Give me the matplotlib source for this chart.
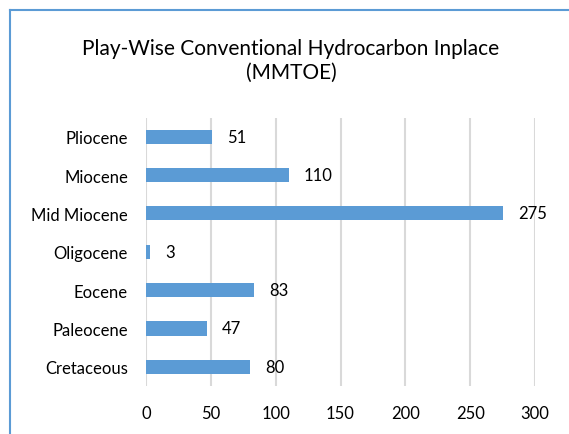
import matplotlib.pyplot as plt
from matplotlib.lines import Line2D

plays = ["Pliocene", "Miocene", "Mid Miocene", "Oligocene", "Eocene", "Paleocene", "Cretaceous"]
inplace = [51, 110, 275, 3, 83, 47, 80]
xticks = [0, 50, 100, 150, 200, 250, 300]

plt.rcParams['font.family'] = ['Lato', 'DejaVu Sans']

W, H = 569, 435
fig = plt.figure(figsize=(W / 100, H / 100), dpi=100)
ax = fig.add_axes([146 / W, 1 - 387 / H, (535 - 146) / W, (387 - 118.5) / H])

pos = list(range(len(plays)))[::-1]
ax.barh(pos, inplace, height=0.37, color="#5b9bd5", zorder=3)
for p, v in zip(pos, inplace):
    ax.annotate(str(v), (v, p), xytext=(11, 0), textcoords="offset points",
                va="center", ha="left", fontsize=12, color="#000000")

ax.set_xlim(0, 300)
ax.set_ylim(-0.5, len(plays) - 0.5)
ax.set_xticks(xticks)
ax.set_yticks(pos)
ax.set_yticklabels(plays)
ax.tick_params(length=0, labelsize=12, colors="#000000")
ax.tick_params(axis="x", pad=14)
ax.tick_params(axis="y", pad=13)
ax.grid(axis="x", color="#d9d9d9", linewidth=1.5, zorder=0)
for s in ax.spines.values():
    s.set_visible(False)

fig.text(291 / W, 1 - 61 / H, "Play-Wise Conventional Hydrocarbon Inplace\n(MMTOE)",
         ha="center", va="center", fontsize=15, linespacing=1.25)

# frame around the chart (only top and left edges are visible)
fig.add_artist(Line2D([10 / W, 1.0], [1 - 11 / H, 1 - 11 / H], transform=fig.transFigure,
                      color="#5b9bd5", linewidth=1.5))
fig.add_artist(Line2D([10 / W, 10 / W], [0, 1 - 11 / H], transform=fig.transFigure,
                      color="#5b9bd5", linewidth=1.5))

fig.savefig("out.png", dpi=100)
